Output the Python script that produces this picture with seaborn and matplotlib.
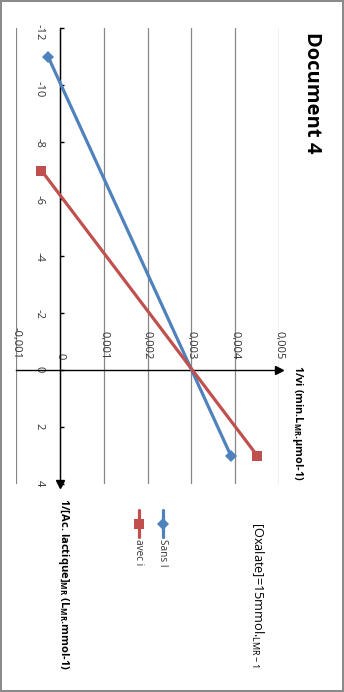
import matplotlib
matplotlib.use("Agg")
import matplotlib.pyplot as plt
from matplotlib.lines import Line2D
from matplotlib.ticker import MultipleLocator, FuncFormatter
import seaborn as sns
import pandas as pd

# Lineweaver-Burk data: 1/[Ac. lactique] and 1/vi for each series
series_names = ["Sans I", "avec i"]
inv_s_sans = [-11, 3]
inv_v_sans = [-0.00027, 0.0039]
inv_s_avec = [-7, 3]
inv_v_avec = [-0.00042, 0.0045]

x_ticks_step = 0.001
x_limits = (-0.001, 0.005)
y_ticks_step = 2
y_limits = (4, -12)

colors = {"Sans I": "#4F81BD", "avec i": "#C0504D"}
markers = {"Sans I": "D", "avec i": "s"}

df = pd.DataFrame({
    "inv_s": inv_s_sans + inv_s_avec,
    "inv_v": inv_v_sans + inv_v_avec,
    "serie": [series_names[0]] * len(inv_s_sans) + [series_names[1]] * len(inv_s_avec),
})

sns.set_theme(style="white")
plt.rcParams["font.family"] = ["Open Sans", "DejaVu Sans"]
plt.rcParams["mathtext.default"] = "regular"

W, H = 344, 692
fig = plt.figure(figsize=(W / 100, H / 100), dpi=100, linewidth=1.5, edgecolor="#8a8a8a")


def fx(px):
    return px / W


def fy(py):
    return 1 - py / H


ax = fig.add_axes([fx(16), fy(484), (279 - 16) / W, (484 - 28) / H])
ax.set_facecolor("white")

sns.lineplot(data=df, x="inv_v", y="inv_s", hue="serie", style="serie",
             palette=colors, markers=markers, dashes=False, sort=False,
             estimator=None, legend=False, lw=2.3, markersize=6.5,
             markeredgewidth=0, ax=ax, zorder=4)

ax.set_xlim(*x_limits)
ax.set_ylim(*y_limits)
ax.xaxis.set_major_locator(MultipleLocator(x_ticks_step))
ax.yaxis.set_major_locator(MultipleLocator(y_ticks_step))
ax.xaxis.set_major_formatter(FuncFormatter(lambda v, p: f"{round(v, 6):g}".replace(".", ",")))
ax.yaxis.set_major_formatter(FuncFormatter(lambda v, p: f"{v:g}"))

# axes cross at the origin
for side in ("right", "bottom"):
    ax.spines[side].set_visible(False)
ax.spines["left"].set_position(("data", 0))
ax.spines["top"].set_position(("data", 0))
for side in ("left", "top"):
    ax.spines[side].set_color("black")
    ax.spines[side].set_linewidth(1.0)
    ax.spines[side].set_zorder(3)
ax.xaxis.set_ticks_position("top")
ax.yaxis.set_ticks_position("left")
ax.tick_params(axis="x", length=0, pad=8, labelsize=8, labelcolor="#333333", labelrotation=270)
ax.tick_params(axis="y", direction="in", length=3, width=1, color="black", pad=11,
               labelsize=8, labelcolor="#333333", labelrotation=270)
ax.set_xlabel("")
ax.set_ylabel("")

ax.set_axisbelow(True)
ax.grid(axis="x", color="#878787", lw=0.9)
ax.grid(axis="y", visible=False)

# arrow heads at the axis ends
ax.plot([x_limits[1]], [0], marker=">", color="black", ms=6, clip_on=False, zorder=5)
ax.plot([0], [y_limits[0]], marker="v", color="black", ms=6, clip_on=False, zorder=5)

# titles
fig.text(fx(312), fy(32), "Document 4", rotation=270, ha="center", va="top",
         fontsize=14.5, fontweight="bold", color="black")
fig.text(fx(297), fy(365), "1/vi (min.L$_{MR}$.µmol-1)", rotation=270, ha="center",
         va="top", fontsize=7.8, fontweight="bold", color="black")
fig.text(fx(63), fy(498), "1/[Ac. lactique]$_{MR}$ (L$_{MR}$.mmol-1)", rotation=270,
         ha="center", va="top", fontsize=8, fontweight="bold", color="black")
fig.text(fx(257), fy(522), "[Oxalate]=15mmol.$_{LMR-1}$", rotation=270,
         ha="center", va="top", fontsize=9.2, color="black")

# legend drawn vertically
for name, xpix in (("Sans I", 163), ("avec i", 139)):
    fig.add_artist(Line2D([fx(xpix), fx(xpix)], [fy(510), fy(537)],
                          transform=fig.transFigure, color=colors[name], lw=2.3))
    fig.add_artist(Line2D([fx(xpix)], [fy(523.5)], transform=fig.transFigure,
                          color=colors[name], marker=markers[name], ms=6.5, mew=0))
    fig.text(fx(xpix), fy(539), name, rotation=270, ha="center", va="top",
             fontsize=7.2, color="#333333")

fig.savefig("out.png", dpi=100, edgecolor=fig.get_edgecolor())
